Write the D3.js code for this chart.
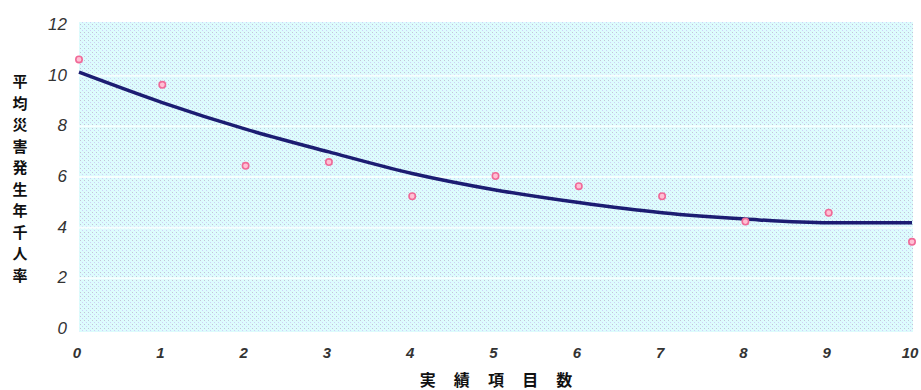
<!DOCTYPE html>
<html>
<head>
<meta charset="utf-8">
<script src="https://cdn.jsdelivr.net/npm/d3@7"></script>
<style>
  body { margin: 0; background: #fff; }
  svg { display: block; }
</style>
</head>
<body>
<svg id="chart"></svg>
<script>
// categories (number of items) and values
var itemCounts = [0, 1, 2, 3, 4, 5, 6, 7, 8, 9, 10];
var observedRates = [10.6, 9.6, 6.4, 6.55, 5.2, 6.0, 5.6, 5.2, 4.2, 4.55, 3.4];
var trendRates = [10.1, 8.9, 7.85, 6.95, 6.1, 5.45, 4.95, 4.55, 4.3, 4.15, 4.15];
var yTicks = [0, 2, 4, 6, 8, 10, 12];
var xTicks = [0, 1, 2, 3, 4, 5, 6, 7, 8, 9, 10];
var yTitle = "平均災害発生年千人率";
var xTitle = "実 績 項 目 数";

var svgWidth = 921;
var svgHeight = 390;
var svg = d3.select("#chart").attr("width", svgWidth).attr("height", svgHeight);

var xScale = d3.scaleLinear().domain([0, 10]).range([79, 912]);
var yScale = d3.scaleLinear().domain([0, 12]).range([328, 24]);

// dotted cyan background pattern
var defs = svg.append("defs");
var pat = defs.append("pattern")
  .attr("id", "dots")
  .attr("patternUnits", "userSpaceOnUse")
  .attr("width", 4)
  .attr("height", 4);
pat.append("rect").attr("width", 4).attr("height", 4).attr("fill", "#dcfdfd");
pat.append("rect").attr("x", 0).attr("y", 0).attr("width", 1).attr("height", 1).attr("fill", "#c2c4d8");
pat.append("rect").attr("x", 2).attr("y", 2).attr("width", 1).attr("height", 1).attr("fill", "#cfcff8");
pat.append("rect").attr("x", 1).attr("y", 1).attr("width", 1).attr("height", 1).attr("fill", "#e2f4fc");
pat.append("rect").attr("x", 3).attr("y", 3).attr("width", 1).attr("height", 1).attr("fill", "#e2f4fc");

svg.append("rect")
  .attr("x", xScale(0))
  .attr("y", yScale(12) - 2)
  .attr("width", xScale(10) - xScale(0) + 1)
  .attr("height", yScale(0) - yScale(12) + 6)
  .attr("fill", "url(#dots)");

// white bands on every even value
svg.selectAll("line.grid")
  .data(yTicks.slice(1, -1))
  .enter()
  .append("line")
  .attr("class", "grid")
  .attr("x1", xScale(0))
  .attr("x2", xScale(10) + 1)
  .attr("y1", function (d) { return yScale(d) + 1; })
  .attr("y2", function (d) { return yScale(d) + 1; })
  .attr("stroke", "#f6ffff")
  .attr("stroke-width", 2);

// y tick labels
svg.selectAll("text.ytick")
  .data(yTicks)
  .enter()
  .append("text")
  .attr("class", "ytick")
  .attr("x", 67)
  .attr("y", function (d) { return yScale(d) + 6; })
  .attr("text-anchor", "end")
  .attr("font-family", "Liberation Sans, sans-serif")
  .attr("font-style", "italic")
  .attr("font-size", 17)
  .attr("fill", "#333")
  .text(function (d) { return d; });

// x tick labels
svg.selectAll("text.xtick")
  .data(xTicks)
  .enter()
  .append("text")
  .attr("class", "xtick")
  .attr("x", function (d) { return xScale(d) - 2; })
  .attr("y", 358)
  .attr("text-anchor", "middle")
  .attr("font-family", "Liberation Sans, sans-serif")
  .attr("font-style", "italic")
  .attr("font-size", 15)
  .attr("font-weight", "bold")
  .attr("fill", "#333")
  .text(function (d) { return d; });

// vertical y title, one character per line
svg.selectAll("text.ytitle")
  .data(yTitle.split(""))
  .enter()
  .append("text")
  .attr("class", "ytitle")
  .attr("x", 20)
  .attr("y", function (d, i) { return 87 + i * 21.5; })
  .attr("text-anchor", "middle")
  .attr("font-family", "Noto Sans CJK JP, sans-serif")
  .attr("font-weight", "bold")
  .attr("font-size", 15)
  .attr("fill", "#111")
  .text(function (d) { return d; });

svg.append("text")
  .attr("x", 496)
  .attr("y", 386)
  .attr("text-anchor", "middle")
  .attr("font-family", "Noto Sans CJK JP, sans-serif")
  .attr("font-weight", "bold")
  .attr("font-size", 16)
  .attr("fill", "#111")
  .attr("xml:space", "preserve")
  .style("white-space", "pre")
  .text(xTitle.split(" ").join("     "));

// trend curve
var line = d3.line()
  .x(function (d, i) { return xScale(itemCounts[i]); })
  .y(function (d) { return yScale(d); })
  .curve(d3.curveMonotoneX);

svg.append("path")
  .datum(trendRates)
  .attr("d", line)
  .attr("fill", "none")
  .attr("stroke", "#1c1c72")
  .attr("stroke-width", 3.5);

// observed points
svg.selectAll("circle.obs")
  .data(observedRates)
  .enter()
  .append("circle")
  .attr("class", "obs")
  .attr("cx", function (d, i) { return xScale(itemCounts[i]); })
  .attr("cy", function (d) { return yScale(d); })
  .attr("r", 3.2)
  .attr("fill", "#ffc0d4")
  .attr("stroke", "#f06a98")
  .attr("stroke-width", 1.6);
</script>
</body>
</html>
